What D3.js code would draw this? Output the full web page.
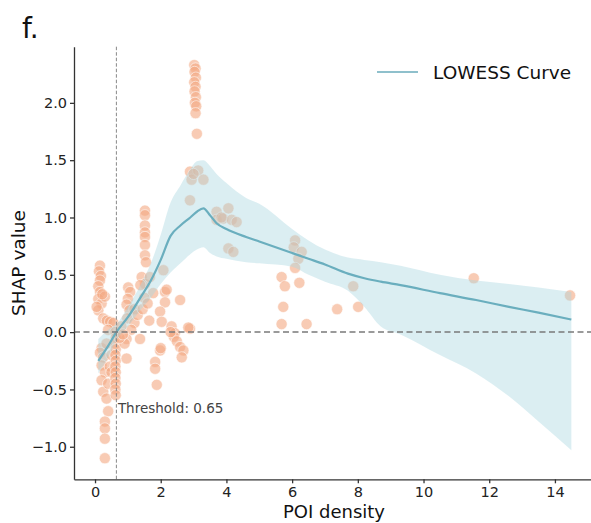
<!DOCTYPE html>
<html lang="en">
<head>
  <meta charset="UTF-8">
  <title>SHAP dependence - POI density</title>
  <script src="https://d3js.org/d3.v7.min.js"></script>
  <style>
    body {
      margin: 0;
      padding: 0;
      background: #fff;
      font-family: "DejaVu Sans", sans-serif;
    }
    .axis text {
      font-family: "DejaVu Sans", sans-serif;
      font-size: 14.5px;
      fill: #222;
    }
    .axis path, .axis line {
      stroke: #333;
      stroke-width: 1.3;
    }
  </style>
</head>
<body>
  <div id="chart"></div>

  <script>
    // scatter points (POI density, SHAP value)
    const poiDensity = [
      0.15, 0.12, 0.18, 0.15, 0.10, 0.15, 0.10, 0.20, 0.10, 0.05, 0.25, 0.36, 0.46, 0.30, 0.22,
      0.56, 0.40, 0.20, 0.15, 0.25, 0.20, 0.30, 0.20, 0.25, 0.35, 0.40, 0.30, 0.30, 0.30, 0.30,
      0.45, 0.40, 0.50, 0.35, 0.50,
      0.62, 0.63, 0.62, 0.63, 0.62, 0.63, 0.62, 0.63, 0.62, 0.63, 0.62, 0.63,
      1.01, 1.07, 1.00, 0.96, 1.05, 0.98, 1.20, 1.10, 0.96, 1.37, 0.96, 0.80, 0.90, 0.75, 1.20, 1.30, 0.85,
      1.52, 1.52, 1.52, 1.52, 1.52, 1.52, 1.52, 1.55, 1.42, 1.52, 1.38, 1.67, 1.77, 1.50, 1.45, 1.60, 1.65,
      2.13, 2.13, 2.59, 1.98, 2.03, 2.08, 2.18, 2.33, 2.89, 2.84, 2.43, 2.40, 2.49, 2.59, 2.69, 2.64,
      1.98, 1.83, 1.83, 1.88, 2.00, 2.30,
      3.02, 3.06, 3.03, 3.07, 3.02, 3.06, 3.03, 3.07, 3.04, 3.08, 3.06, 3.10,
      2.89, 3.14, 2.94, 3.30, 2.89, 3.00,
      3.70, 4.06, 3.70, 3.90, 4.16, 4.31, 4.06, 4.21, 3.85,
      6.09, 6.05, 6.29, 6.19, 6.09, 5.68, 5.78, 6.22, 5.73, 5.68, 6.44, 7.86, 7.37, 8.01, 11.53, 14.46
    ];
    const shapValue = [
      0.58, 0.53, 0.49, 0.45, 0.40, 0.35, 0.29, 0.25, 0.19, 0.22, 0.12, 0.10, 0.09, 0.31, 0.33,
      0.08, 0.02, -0.14, -0.18, -0.22, -0.29, -0.35, -0.42, -0.52, -0.58, -0.69, -0.78, -0.84, -0.93, -1.10,
      -0.30, -0.45, -0.35, -0.10, -0.20,
      0.00, -0.05, -0.10, -0.15, -0.20, -0.25, -0.30, -0.35, -0.40, -0.45, -0.50, -0.55,
      0.39, 0.35, 0.29, 0.24, 0.19, 0.12, 0.08, 0.02, -0.06, -0.06, -0.23, 0.05, -0.10, -0.05, 0.20, 0.15, -0.02,
      1.06, 1.02, 0.93, 0.87, 0.83, 0.76, 0.67, 0.61, 0.48, 0.42, 0.41, 0.48, 0.34, 0.30, 0.20, 0.25, 0.10,
      0.35, 0.26, 0.28, 0.18, 0.09, 0.54, 0.37, 0.05, 0.03, 0.04, -0.01, -0.04, -0.08, -0.13, -0.16, -0.22,
      -0.16, -0.26, -0.32, -0.46, -0.14, 0.00,
      2.33, 2.30, 2.27, 2.22, 2.18, 2.14, 2.10, 2.05, 2.00, 1.97, 1.91, 1.73,
      1.40, 1.41, 1.33, 1.33, 1.15, 1.38,
      1.05, 1.08, 0.98, 0.99, 0.98, 0.96, 0.73, 0.70, 1.00,
      0.80, 0.74, 0.70, 0.64, 0.56, 0.48, 0.40, 0.43, 0.22, 0.07, 0.07, 0.40, 0.20, 0.22, 0.47, 0.32
    ];

    // LOWESS fit and its confidence band
    const lowessX = [0.1, 0.4, 0.65, 1.0, 1.4, 1.7, 2.0, 2.3, 2.6, 2.9, 3.1, 3.3, 3.5, 3.7, 4.0, 4.6, 5.0, 6.0, 6.5, 7.0, 7.7, 8.2, 8.7, 9.3, 10.5, 11.6, 12.6, 13.5, 14.5];
    const lowessY = [-0.25, -0.12, 0.0, 0.13, 0.31, 0.45, 0.63, 0.84, 0.93, 1.0, 1.05, 1.08, 1.02, 0.95, 0.9, 0.83, 0.79, 0.69, 0.64, 0.59, 0.51, 0.47, 0.44, 0.41, 0.34, 0.28, 0.22, 0.17, 0.11];
    const bandUpper = [-0.06, 0.02, 0.07, 0.22, 0.42, 0.6, 0.85, 1.13, 1.28, 1.42, 1.49, 1.5, 1.45, 1.38, 1.3, 1.17, 1.12, 0.9, 0.8, 0.72, 0.65, 0.63, 0.61, 0.58, 0.5, 0.45, 0.42, 0.39, 0.35];
    const bandLower = [-0.36, -0.22, -0.07, 0.05, 0.2, 0.3, 0.42, 0.52, 0.6, 0.68, 0.72, 0.74, 0.69, 0.66, 0.64, 0.61, 0.6, 0.57, 0.5, 0.44, 0.36, 0.22, 0.05, -0.02, -0.2, -0.36, -0.56, -0.78, -1.03];

    const xTicks = [0, 2, 4, 6, 8, 10, 12, 14];
    const yTicks = [-1.0, -0.5, 0.0, 0.5, 1.0, 1.5, 2.0];
    const threshold = 0.65;

    const width = 591;
    const height = 523;

    const svg = d3.select("#chart")
                  .append("svg")
                  .attr("width", width)
                  .attr("height", height);

    const x = d3.scaleLinear()
                .domain([-0.64, 15.22])
                .range([74, 595]);

    const y = d3.scaleLinear()
                .domain([-1.284, 2.49])
                .range([479.3, 46.7]);

    // points
    svg.append("g")
       .selectAll("circle")
       .data(poiDensity.map((d, i) => [d, shapValue[i]]))
       .enter()
       .append("circle")
       .attr("cx", d => x(d[0]))
       .attr("cy", d => y(d[1]))
       .attr("r", 5.6)
       .attr("fill", "#f4a882")
       .attr("fill-opacity", 0.6)
       .attr("stroke", "#fff")
       .attr("stroke-opacity", 0.7)
       .attr("stroke-width", 0.8);

    // confidence band
    const band = lowessX.map((d, i) => ({ x: d, lo: bandLower[i], hi: bandUpper[i] }));
    svg.append("path")
       .datum(band)
       .attr("fill", "#a9d6df")
       .attr("fill-opacity", 0.42)
       .attr("d", d3.area()
                    .curve(d3.curveMonotoneX)
                    .x(d => x(d.x))
                    .y0(d => y(d.lo))
                    .y1(d => y(d.hi)));

    // lowess curve
    svg.append("path")
       .datum(lowessX.map((d, i) => [d, lowessY[i]]))
       .attr("fill", "none")
       .attr("stroke", "#6aaebe")
       .attr("stroke-width", 2.2)
       .attr("d", d3.line()
                    .curve(d3.curveMonotoneX)
                    .x(d => x(d[0]))
                    .y(d => y(d[1])));

    // reference lines
    svg.append("line")
       .attr("x1", 74).attr("x2", width)
       .attr("y1", y(0)).attr("y2", y(0))
       .attr("stroke", "#7a7a7a")
       .attr("stroke-width", 1.5)
       .attr("stroke-dasharray", "6,3.5");

    svg.append("line")
       .attr("x1", x(threshold)).attr("x2", x(threshold))
       .attr("y1", 46.7).attr("y2", 479.3)
       .attr("stroke", "#888")
       .attr("stroke-width", 1)
       .attr("stroke-dasharray", "3.5,2");

    svg.append("text")
       .attr("x", x(threshold) + 1.5)
       .attr("y", 413)
       .attr("font-size", "13.5px")
       .attr("fill", "#444")
       .text("Threshold: " + threshold);

    // axes
    svg.append("g")
       .attr("class", "axis")
       .attr("transform", "translate(0,479.3)")
       .call(d3.axisBottom(x).tickValues(xTicks).tickSize(4).tickSizeOuter(0).tickPadding(3));

    svg.append("g")
       .attr("class", "axis")
       .attr("transform", "translate(74,0)")
       .call(d3.axisLeft(y).tickValues(yTicks).tickFormat(d3.format(".1f")).tickSize(4).tickSizeOuter(0).tickPadding(3));

    svg.selectAll(".axis .domain")
       .attr("d", function() { return d3.select(this).attr("d"); });

    // labels
    svg.append("text")
       .attr("x", 334)
       .attr("y", 518)
       .attr("text-anchor", "middle")
       .attr("font-size", "18px")
       .attr("fill", "#111")
       .text("POI density");

    svg.append("text")
       .attr("transform", "translate(25,263) rotate(-90)")
       .attr("text-anchor", "middle")
       .attr("font-size", "18.5px")
       .attr("fill", "#111")
       .text("SHAP value");

    svg.append("text")
       .attr("x", 22)
       .attr("y", 38)
       .attr("font-size", "28px")
       .attr("fill", "#111")
       .text("f.");

    // legend
    svg.append("line")
       .attr("x1", 377).attr("x2", 418)
       .attr("y1", 72).attr("y2", 72)
       .attr("stroke", "#8fc0cc")
       .attr("stroke-width", 2.2);

    svg.append("text")
       .attr("x", 433)
       .attr("y", 78.5)
       .attr("font-size", "18.5px")
       .attr("fill", "#111")
       .text("LOWESS Curve");
  </script>
</body>
</html>
